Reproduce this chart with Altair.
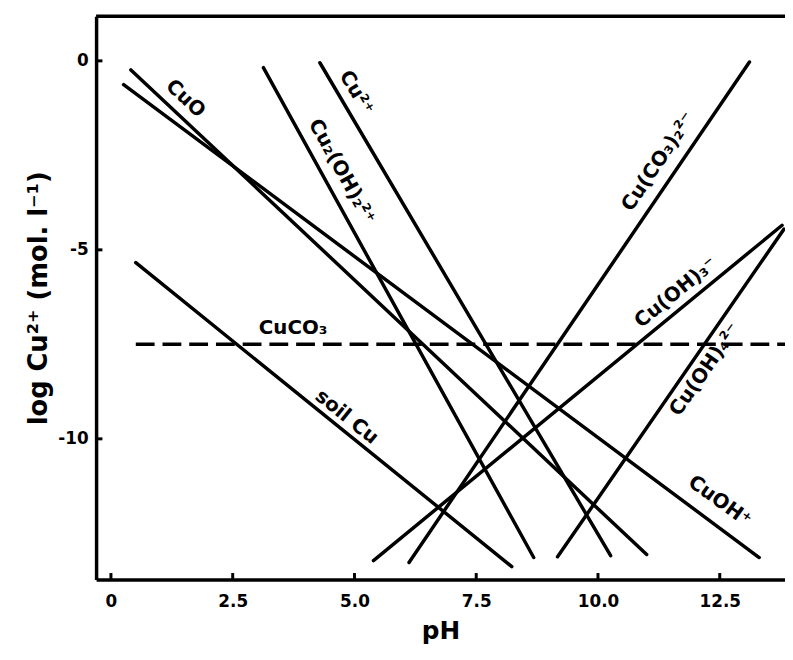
import altair as alt
import pandas as pd

# ---- data ----
species = ["CuO", "CuOH+", "Cu2(OH)2 2+", "Cu2+", "soil Cu", "Cu(CO3)2 2-", "Cu(OH)3-", "Cu(OH)4 2-"]
ph_start = [0.41, 0.26, 3.13, 4.29, 0.51, 6.12, 5.39, 9.17]
ph_end = [11.00, 13.31, 8.68, 10.26, 8.23, 13.11, 13.78, 13.82]
log_start = [-0.24, -0.63, -0.18, -0.05, -5.34, -13.27, -13.22, -13.12]
log_end = [-13.06, -13.14, -13.14, -13.09, -13.38, -0.03, -4.35, -4.45]

cuco3_ph = [0.51, 13.84]
cuco3_log = [-7.5, -7.5]

label_text = ["CuO", "Cu²⁺", "Cu₂(OH)₂²⁺", "Cu(CO₃)₂²⁻", "Cu(OH)₃⁻", "Cu(OH)₄²⁻", "CuCO₃", "soil Cu", "CuOH⁺"]
label_ph = [1.53, 5.04, 4.74, 11.24, 11.60, 12.20, 3.74, 4.84, 12.50]
label_log = [-1.00, -0.84, -2.93, -2.67, -6.13, -8.17, -7.07, -9.42, -11.65]
label_angle = [43, 59, 61, 304, 321, 305, 0, 39, 36]

x_ticks = [0, 2.5, 5.0, 7.5, 10.0, 12.5]
y_ticks = [0, -5, -10]

x_min, x_max = -0.305, 13.84
y_min, y_max = -13.72, 1.18

FONT = "DejaVu Sans"

# ---- tables ----
rows = []
for s, p0, p1, l0, l1 in zip(species, ph_start, ph_end, log_start, log_end):
    rows.append({"species": s, "ph": p0, "log": l0})
    rows.append({"species": s, "ph": p1, "log": l1})
lines_df = pd.DataFrame(rows)
dash_df = pd.DataFrame({"ph": cuco3_ph, "log": cuco3_log})
labels_df = pd.DataFrame({"text": label_text, "ph": label_ph, "log": label_log, "angle": label_angle})
xt_df = pd.DataFrame({"ph": x_ticks, "y0": [y_min] * len(x_ticks), "y1": [y_min + 0.17] * len(x_ticks)})
yt_df = pd.DataFrame({"log": y_ticks, "x0": [x_min] * len(y_ticks), "x1": [x_min + 0.13] * len(y_ticks)})
frame_df = pd.DataFrame({"x0": [x_min], "x1": [x_max], "y": [y_max]})

xscale = alt.Scale(domain=[x_min, x_max], nice=False, zero=False)
yscale = alt.Scale(domain=[y_min, y_max], nice=False, zero=False)

x_axis = alt.Axis(
    values=x_ticks, ticks=False, grid=False, domainWidth=3.5, domainColor="black",
    labelExpr="datum.value == 0 ? '0' : format(datum.value, '.1f')",
    labelFont=FONT, labelFontSize=17, labelFontWeight="bold", labelColor="black",
    labelPadding=14, title="pH", titleFont=FONT, titleFontSize=25,
    titleFontWeight="bold", titleColor="black", titlePadding=10,
)
y_axis = alt.Axis(
    values=y_ticks, ticks=False, grid=False, domainWidth=3.5, domainColor="black",
    labelExpr="'' + datum.value",
    labelFont=FONT, labelFontSize=17, labelFontWeight="bold", labelColor="black",
    labelPadding=8, title="log Cu²⁺ (mol. l⁻¹)", titleFont=FONT, titleFontSize=26,
    titleFontWeight="bold", titleColor="black", titlePadding=6,
)

lines = alt.Chart(lines_df).mark_line(color="black", strokeWidth=3.5, strokeCap="round", clip=True).encode(
    x=alt.X("ph:Q", scale=xscale, axis=x_axis),
    y=alt.Y("log:Q", scale=yscale, axis=y_axis),
    detail="species:N",
)

dashed = alt.Chart(dash_df).mark_line(color="black", strokeWidth=3.5, strokeDash=[19, 8], clip=True).encode(
    x="ph:Q", y="log:Q"
)

labels = alt.Chart(labels_df).mark_text(
    font=FONT, fontSize=20, fontWeight="bold", color="black", align="center", baseline="middle"
).encode(
    x="ph:Q", y="log:Q", text="text:N", angle=alt.Angle("angle:Q", scale=None)
)

xticks = alt.Chart(xt_df).mark_rule(color="black", strokeWidth=3).encode(
    x="ph:Q", y=alt.Y("y0:Q"), y2="y1:Q"
)
yticks = alt.Chart(yt_df).mark_rule(color="black", strokeWidth=3).encode(
    y="log:Q", x=alt.X("x0:Q"), x2="x1:Q"
)
frame = alt.Chart(frame_df).mark_rule(color="black", strokeWidth=3.5).encode(
    x=alt.X("x0:Q"), x2="x1:Q", y=alt.Y("y:Q")
)

chart = alt.layer(lines, dashed, labels, xticks, yticks, frame).properties(
    width=696, height=569,
    padding={"left": 89, "top": 5, "right": 0, "bottom": 75},
    autosize=alt.AutoSizeParams(type="none"),
    background="white",
).configure_view(stroke=None)

chart.save("out.html", embed_options={"renderer": "svg", "actions": False})
